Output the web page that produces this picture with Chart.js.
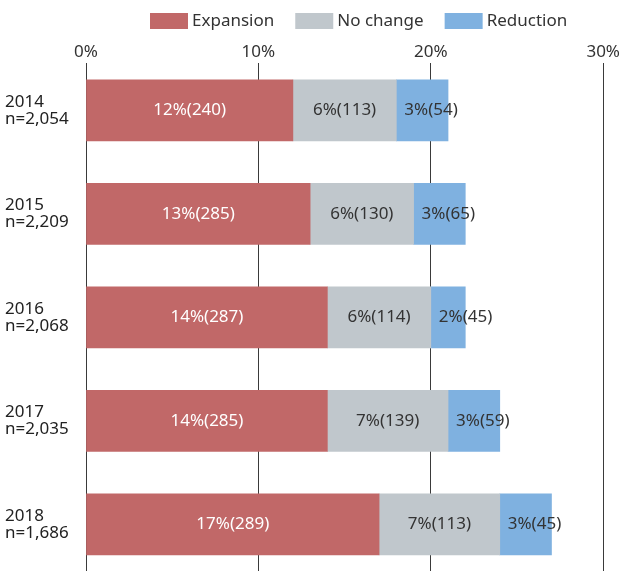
<!DOCTYPE html>
<html>
<head>
<meta charset="utf-8">
<script src="https://cdn.jsdelivr.net/npm/chart.js@4/dist/chart.umd.min.js"></script>
<style>
  html, body { margin: 0; padding: 0; background: #fff; }
  #wrap { width: 621px; height: 571px; position: relative; }
</style>
</head>
<body>
<div id="wrap"><canvas id="c"></canvas></div>
<script>
// Survey years and respondents per year
const years = ['2014', '2015', '2016', '2017', '2018'];
const sampleSizes = ['n=2,054', 'n=2,209', 'n=2,068', 'n=2,035', 'n=1,686'];

// Share (%) and count of responses per answer
const expansionPct   = [12, 13, 14, 14, 17];
const expansionCount = [240, 285, 287, 285, 289];
const noChangePct    = [6, 6, 6, 7, 7];
const noChangeCount  = [113, 130, 114, 139, 113];
const reductionPct   = [3, 3, 2, 3, 3];
const reductionCount = [54, 65, 45, 59, 45];

// Percentage axis ticks
const xTicks = [0, 10, 20, 30];

const FONT = '"Noto Sans", "DejaVu Sans", sans-serif';
const TEXT = '#333333';

const series = [
  { label: 'Expansion', pct: expansionPct, count: expansionCount, color: '#c16868', text: '#ffffff', align: 'center' },
  { label: 'No change', pct: noChangePct,  count: noChangeCount,  color: '#c0c7cc', text: TEXT, align: 'center' },
  { label: 'Reduction', pct: reductionPct, count: reductionCount, color: '#7fb1e0', text: TEXT, align: 'left' }
];

// Value labels "x%(n)" inside each segment
const segmentLabels = {
  id: 'segmentLabels',
  afterDatasetsDraw(chart) {
    const ctx = chart.ctx;
    ctx.save();
    ctx.font = '17px ' + FONT;
    ctx.textBaseline = 'middle';
    chart.data.datasets.forEach((ds, di) => {
      const s = series[di];
      chart.getDatasetMeta(di).data.forEach((el, i) => {
        const txt = s.pct[i] + '%(' + s.count[i] + ')';
        ctx.fillStyle = s.text;
        if (s.align === 'left') {
          ctx.textAlign = 'left';
          ctx.fillText(txt, Math.min(el.base, el.x) + 8, el.y);
        } else {
          ctx.textAlign = 'center';
          ctx.fillText(txt, (el.base + el.x) / 2, el.y);
        }
      });
    });
    ctx.restore();
  }
};

// Legend row across the top
const topLegend = {
  id: 'topLegend',
  afterDraw(chart) {
    const ctx = chart.ctx;
    ctx.save();
    ctx.font = '17px ' + FONT;
    ctx.textBaseline = 'middle';
    ctx.textAlign = 'left';
    let x = 150;
    const cy = 21;
    chart.data.datasets.forEach((ds) => {
      ctx.fillStyle = ds.backgroundColor;
      ctx.fillRect(x, cy - 8, 38, 16);
      x += 38 + 4;
      ctx.fillStyle = TEXT;
      ctx.fillText(ds.label, x, cy);
      x += ctx.measureText(ds.label).width + 21;
    });
    ctx.restore();
  }
};

const datasets = series.map(s => ({
  label: s.label,
  data: s.pct.map((v, i) => ({ x: v, y: i })),
  backgroundColor: s.color,
  borderWidth: 0,
  barThickness: 61
}));

new Chart(document.getElementById('c'), {
  type: 'bar',
  data: { datasets },
  options: {
    indexAxis: 'y',
    responsive: true,
    maintainAspectRatio: false,
    animation: false,
    layout: { padding: { top: 39, left: 5, right: 17, bottom: 0 } },
    plugins: {
      legend: { display: false },
      tooltip: { enabled: false }
    },
    scales: {
      x: {
        type: 'linear',
        position: 'top',
        stacked: true,
        min: xTicks[0],
        max: xTicks[xTicks.length - 1],
        afterBuildTicks: (scale) => { scale.ticks = xTicks.map(v => ({ value: v })); },
        afterFit: (scale) => { scale.height = 24; },
        ticks: {
          padding: 1,
          color: TEXT,
          font: { family: FONT, size: 17 },
          callback: (v) => v + '%'
        },
        grid: { color: '#3a3a3a', lineWidth: 1, drawTicks: false },
        border: { display: false }
      },
      y: {
        type: 'linear',
        reverse: true,
        stacked: true,
        offset: false,
        min: -0.457,
        max: 4.451,
        afterBuildTicks: (scale) => { scale.ticks = years.map((_, i) => ({ value: i })); },
        afterFit: (scale) => {
          scale.width = 81;
          scale.paddingTop = 0;
          scale.paddingBottom = 0;
        },
        ticks: {
          crossAlign: 'far',
          color: '#222222',
          font: { family: FONT, size: 17, lineHeight: 1.0 },
          callback: (v) => [years[v], sampleSizes[v]]
        },
        grid: { display: false, offset: false },
        border: { display: false }
      }
    }
  },
  plugins: [segmentLabels, topLegend]
});
</script>
</body>
</html>
